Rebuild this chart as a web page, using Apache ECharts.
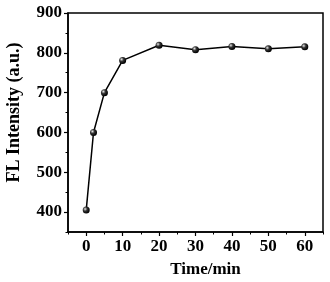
<!DOCTYPE html>
<html>
<head>
<meta charset="utf-8">
<script src="https://cdn.jsdelivr.net/npm/echarts@6/dist/echarts.min.js"></script>
<style>
  html, body { margin: 0; padding: 0; background: #fff; }
  #chart { width: 330px; height: 282px; }
</style>
</head>
<body>
<div id="chart"></div>
<script>
const times = [0, 2, 5, 10, 20, 30, 40, 50, 60];
const intensity = [405, 600, 700, 781, 819, 808, 816, 810, 815];
const xLabels = [0, 10, 20, 30, 40, 50, 60];
const xMinor = [-5, 5, 15, 25, 35, 45, 55, 65];
const yLabels = [400, 500, 600, 700, 800, 900];
const yMinor = [350, 450, 550, 650, 750, 850];

const chart = echarts.init(document.getElementById('chart'));
const font = 'Liberation Serif';
const axisLine = { onZero: false, lineStyle: { color: '#000', width: 1.5 } };

chart.setOption({
  animation: false,
  grid: {
    left: 68, right: 7, top: 13, bottom: 50,
    outerBoundsMode: 'none',
    show: true, borderColor: '#000', borderWidth: 1.5
  },
  xAxis: [{
    type: 'value', min: -5, max: 65,
    name: 'Time/min', nameLocation: 'middle', nameGap: 29,
    nameTextStyle: { fontFamily: font, fontWeight: 'bold', fontSize: 17, color: '#000', padding: [0, 0, 0, 20] },
    axisLine: axisLine,
    axisTick: { customValues: xLabels, length: 4, lineStyle: { color: '#000', width: 1.2 } },
    axisLabel: { customValues: xLabels, fontFamily: font, fontWeight: 'bold', fontSize: 17, color: '#000', margin: 6 },
    splitLine: { show: false }
  }, {
    type: 'value', min: -5, max: 65, position: 'bottom',
    axisLine: { show: false, onZero: false },
    axisTick: { customValues: xMinor, length: 2.5, lineStyle: { color: '#000', width: 1 } },
    axisLabel: { show: false },
    splitLine: { show: false }
  }],
  yAxis: [{
    type: 'value', min: 350, max: 900,
    name: 'FL Intensity (a.u.)', nameLocation: 'middle', nameGap: 45,
    nameTextStyle: { fontFamily: font, fontWeight: 'bold', fontSize: 18, color: '#000', padding: [0, 0, 0, 20] },
    axisLine: axisLine,
    axisTick: { customValues: yLabels, length: 4, lineStyle: { color: '#000', width: 1.2 } },
    axisLabel: { customValues: yLabels, fontFamily: font, fontWeight: 'bold', fontSize: 17, color: '#000', margin: 6 },
    splitLine: { show: false }
  }, {
    type: 'value', min: 350, max: 900, position: 'left',
    axisLine: { show: false, onZero: false },
    axisTick: { customValues: yMinor, length: 2.5, lineStyle: { color: '#000', width: 1 } },
    axisLabel: { show: false },
    splitLine: { show: false }
  }],
  series: [{
    type: 'line',
    data: times.map((t, i) => [t, intensity[i]]),
    symbol: 'circle',
    symbolSize: 7,
    lineStyle: { color: '#000', width: 1.5 },
    itemStyle: {
      color: new echarts.graphic.RadialGradient(0.35, 0.35, 0.65, [
        { offset: 0, color: '#e8e8e8' },
        { offset: 0.45, color: '#333' },
        { offset: 1, color: '#000' }
      ]),
      borderWidth: 0
    }
  }]
});
</script>
</body>
</html>
